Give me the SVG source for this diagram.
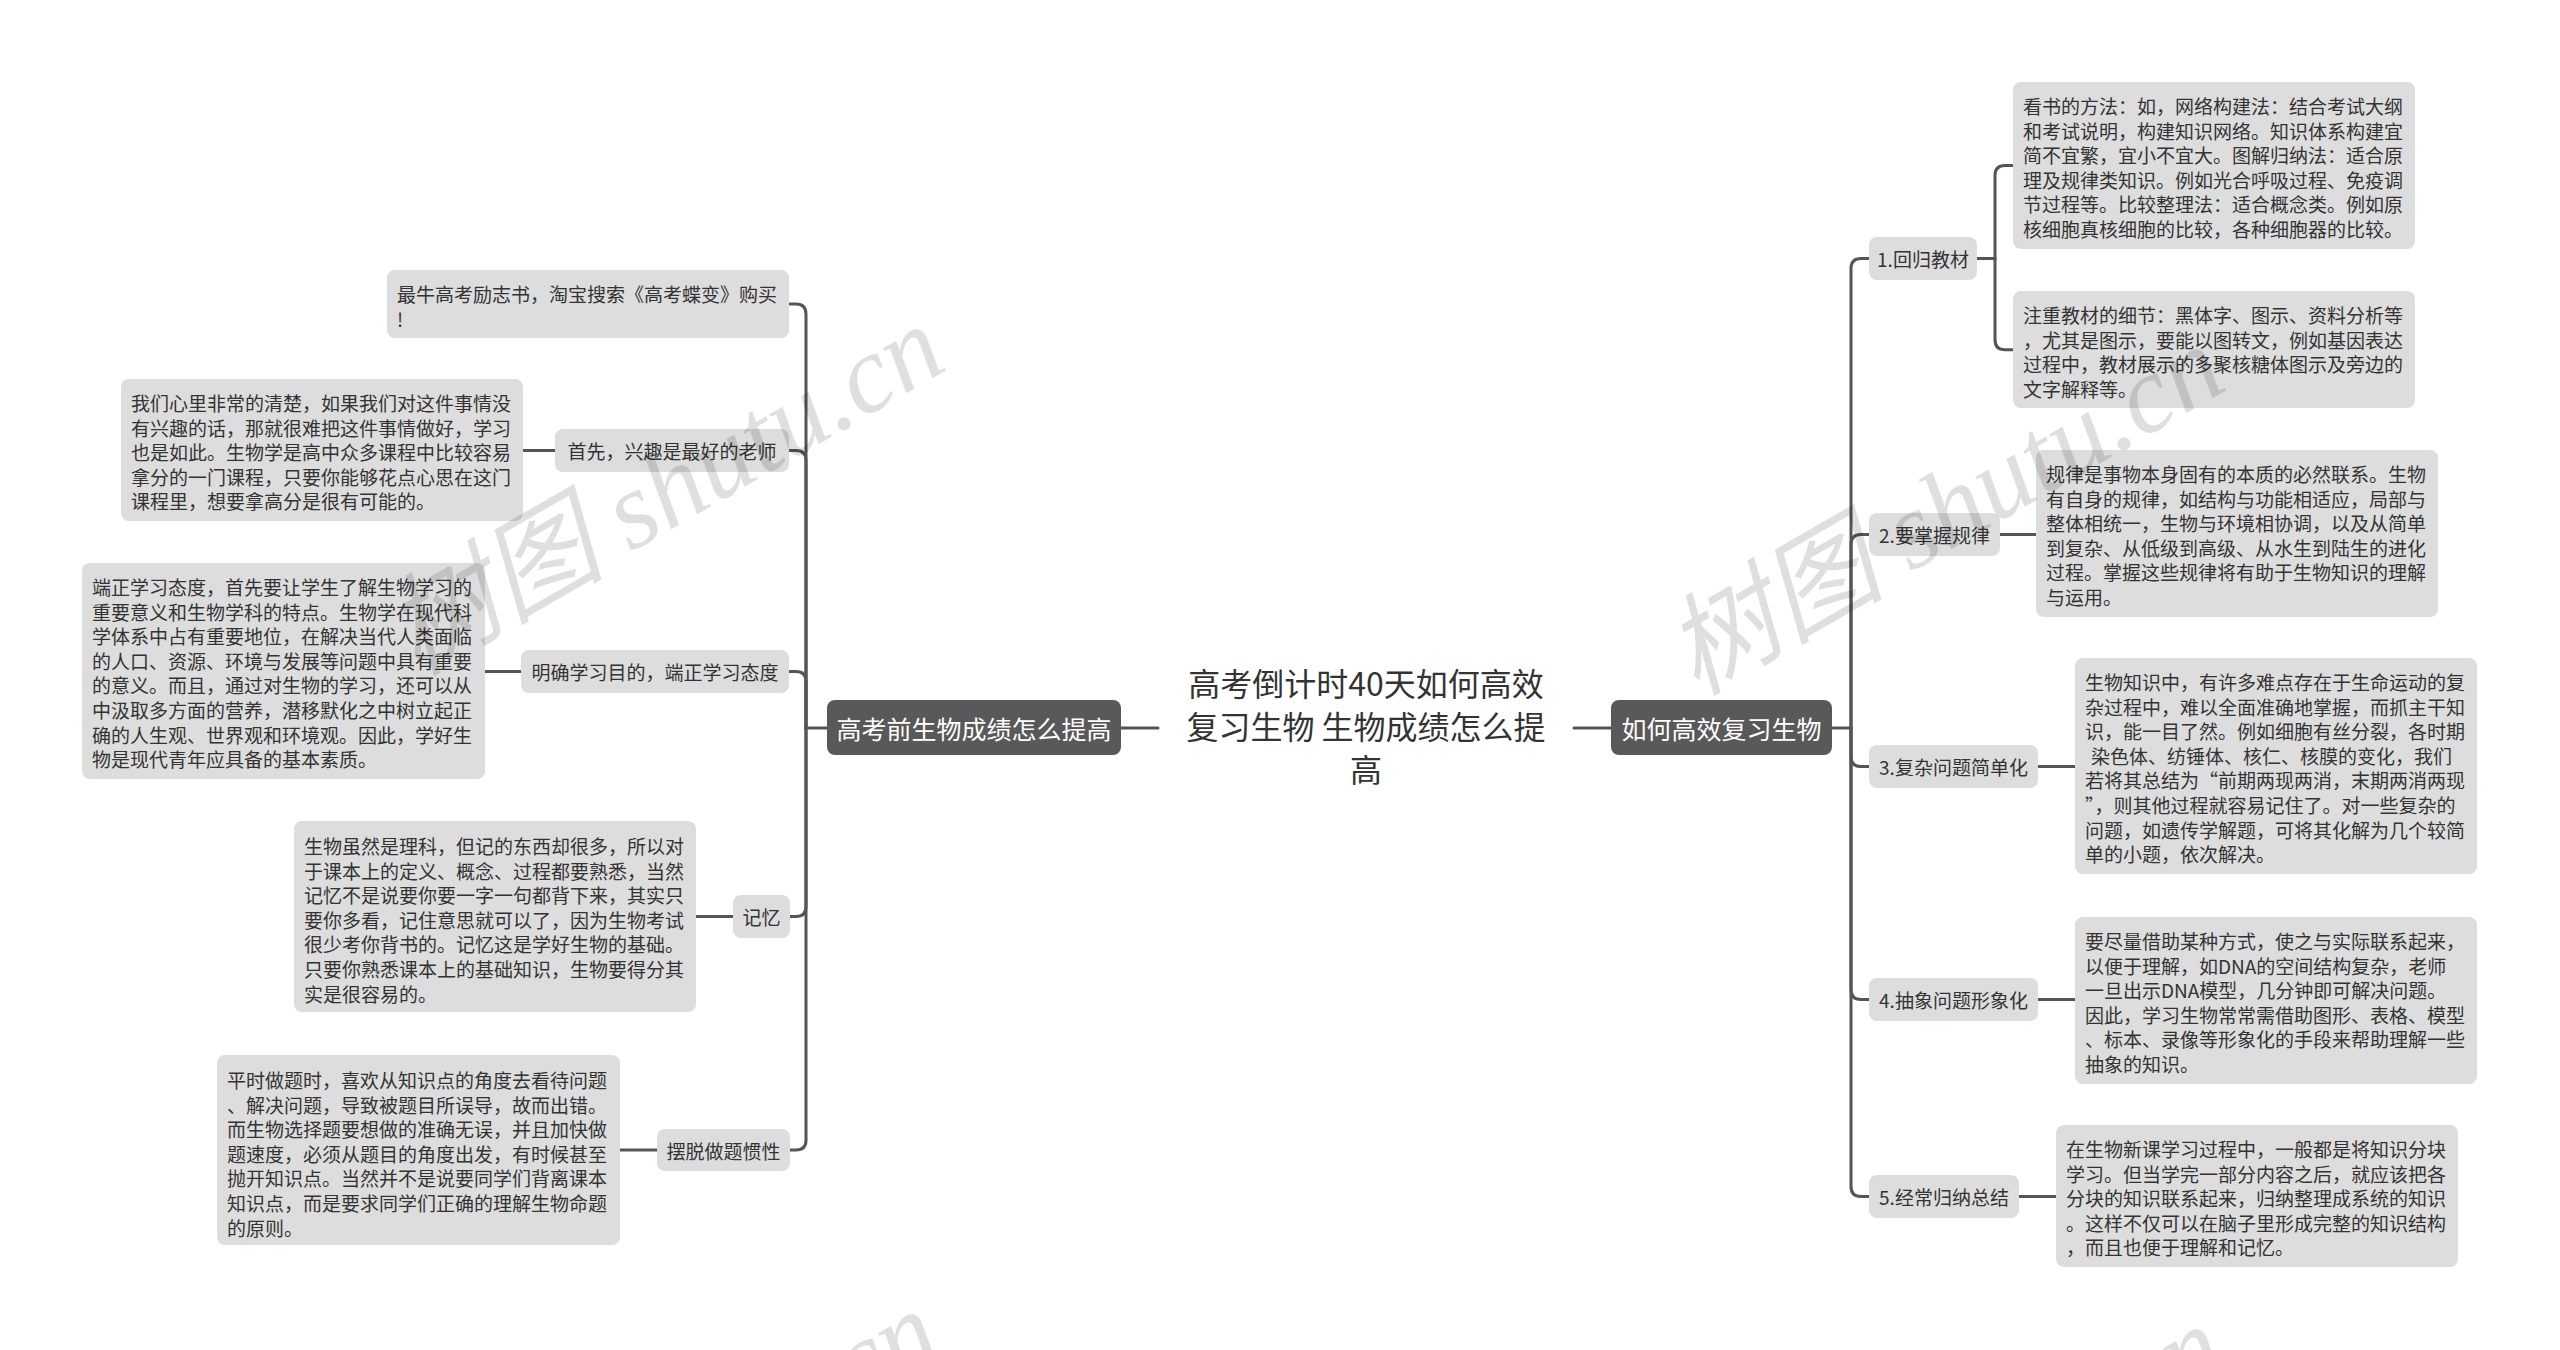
<svg xmlns="http://www.w3.org/2000/svg" width="2560" height="1350" viewBox="0 0 2560 1350">
<style>
.bg{fill:#ffffff}
.box{fill:#dddddd}
.mainbox{fill:#595959}
.t{font-family:"Noto Sans CJK SC","Noto Sans",sans-serif;font-size:19px;fill:#333333;dominant-baseline:central}
.tc{font-family:"Noto Sans CJK SC","Noto Sans",sans-serif;font-size:19px;fill:#333333;dominant-baseline:central;text-anchor:middle}
.tm{font-family:"Noto Sans CJK SC","Noto Sans",sans-serif;font-size:25px;fill:#ffffff;dominant-baseline:central;text-anchor:middle}
.root{font-family:"Noto Sans CJK SC","Noto Sans",sans-serif;font-size:32px;fill:#333333;dominant-baseline:central;text-anchor:middle}
.conn path{fill:none;stroke:#555555;stroke-width:3;stroke-linecap:round}
.wm{font-family:"Liberation Serif","Noto Sans CJK SC",serif;font-style:italic;font-size:110px;fill:#000000;opacity:0.12;text-anchor:middle;dominant-baseline:central}
</style>
<rect class="bg" x="0" y="0" width="2560" height="1350"/>

<g id="connectors" class="conn">
  <path d="M1121 728 H1158"/>
  <path d="M1574 728 H1611"/>
  <path d="M827 728 H806"/>
  <path d="M806 728 V314 Q806 304 796 304 H789"/>
  <path d="M806 728 V460.5 Q806 450.5 796 450.5 H789"/>
  <path d="M806 728 V681.5 Q806 671.5 796 671.5 H789"/>
  <path d="M806 728 V906.5 Q806 916.5 796 916.5 H790"/>
  <path d="M806 728 V1140 Q806 1150 796 1150 H790"/>
  <path d="M555 450.5 H523"/>
  <path d="M521 671.5 H485"/>
  <path d="M733 916.5 H696"/>
  <path d="M657 1150 H620"/>
  <path d="M1832 728 H1851"/>
  <path d="M1851 728 V268.5 Q1851 258.5 1861 258.5 H1869"/>
  <path d="M1851 728 V544.5 Q1851 534.5 1861 534.5 H1869"/>
  <path d="M1851 728 V756.5 Q1851 766.5 1861 766.5 H1869"/>
  <path d="M1851 728 V989.5 Q1851 999.5 1861 999.5 H1869"/>
  <path d="M1851 728 V1186.5 Q1851 1196.5 1861 1196.5 H1869"/>
  <path d="M1977 258.5 H1995"/>
  <path d="M1995 258.5 V175.5 Q1995 165.5 2005 165.5 H2013"/>
  <path d="M1995 258.5 V339.7 Q1995 349.7 2005 349.7 H2013"/>
  <path d="M2000 534.5 H2036"/>
  <path d="M2038 766.5 H2075"/>
  <path d="M2038 999.5 H2075"/>
  <path d="M2019 1196.5 H2056"/>
</g>

<g id="root">
  <text class="root" x="1366" y="682">高考倒计时40天如何高效</text>
  <text class="root" x="1366" y="725">复习生物 生物成绩怎么提</text>
  <text class="root" x="1366" y="768">高</text>
</g>

<g id="main-left">
  <rect class="mainbox" x="827" y="700" width="294" height="55" rx="8"/>
  <text class="tm" x="974" y="728">高考前生物成绩怎么提高</text>
</g>
<g id="main-right">
  <rect class="mainbox" x="1611" y="700" width="221" height="55" rx="8"/>
  <text class="tm" x="1721.5" y="728">如何高效复习生物</text>
</g>

<g id="leaf-l1">
  <rect class="box" x="387" y="270" width="402" height="68" rx="8"/>
  <text class="t" x="397" y="293"><tspan x="397">最牛高考励志书，淘宝搜索《高考蝶变》购买</tspan><tspan x="397" dy="24.6">!</tspan></text>
</g>

<g id="mid-l2">
  <rect class="box" x="555" y="429" width="234" height="43" rx="8"/>
  <text class="tc" x="672" y="450.5">首先，兴趣是最好的老师</text>
</g>
<g id="leaf-l2">
  <rect class="box" x="121" y="379" width="402" height="142" rx="8"/>
  <text class="t" x="131" y="402"><tspan x="131">我们心里非常的清楚，如果我们对这件事情没</tspan><tspan x="131" dy="24.6">有兴趣的话，那就很难把这件事情做好，学习</tspan><tspan x="131" dy="24.6">也是如此。生物学是高中众多课程中比较容易</tspan><tspan x="131" dy="24.6">拿分的一门课程，只要你能够花点心思在这门</tspan><tspan x="131" dy="24.6">课程里，想要拿高分是很有可能的。</tspan></text>
</g>

<g id="mid-l3">
  <rect class="box" x="521" y="650" width="268" height="43" rx="8"/>
  <text class="tc" x="655" y="671.5">明确学习目的，端正学习态度</text>
</g>
<g id="leaf-l3">
  <rect class="box" x="82" y="563" width="403" height="216" rx="8"/>
  <text class="t" x="92" y="586"><tspan x="92">端正学习态度，首先要让学生了解生物学习的</tspan><tspan x="92" dy="24.6">重要意义和生物学科的特点。生物学在现代科</tspan><tspan x="92" dy="24.6">学体系中占有重要地位，在解决当代人类面临</tspan><tspan x="92" dy="24.6">的人口、资源、环境与发展等问题中具有重要</tspan><tspan x="92" dy="24.6">的意义。而且，通过对生物的学习，还可以从</tspan><tspan x="92" dy="24.6">中汲取多方面的营养，潜移默化之中树立起正</tspan><tspan x="92" dy="24.6">确的人生观、世界观和环境观。因此，学好生</tspan><tspan x="92" dy="24.6">物是现代青年应具备的基本素质。</tspan></text>
</g>

<g id="mid-l4">
  <rect class="box" x="733" y="895" width="57" height="43" rx="8"/>
  <text class="tc" x="761.5" y="916.5">记忆</text>
</g>
<g id="leaf-l4">
  <rect class="box" x="294" y="821" width="402" height="191" rx="8"/>
  <text class="t" x="304" y="845"><tspan x="304">生物虽然是理科，但记的东西却很多，所以对</tspan><tspan x="304" dy="24.6">于课本上的定义、概念、过程都要熟悉，当然</tspan><tspan x="304" dy="24.6">记忆不是说要你要一字一句都背下来，其实只</tspan><tspan x="304" dy="24.6">要你多看，记住意思就可以了，因为生物考试</tspan><tspan x="304" dy="24.6">很少考你背书的。记忆这是学好生物的基础。</tspan><tspan x="304" dy="24.6">只要你熟悉课本上的基础知识，生物要得分其</tspan><tspan x="304" dy="24.6">实是很容易的。</tspan></text>
</g>

<g id="mid-l5">
  <rect class="box" x="657" y="1129" width="133" height="42" rx="8"/>
  <text class="tc" x="723.5" y="1150">摆脱做题惯性</text>
</g>
<g id="leaf-l5">
  <rect class="box" x="217" y="1055" width="403" height="190" rx="8"/>
  <text class="t" x="227" y="1079"><tspan x="227">平时做题时，喜欢从知识点的角度去看待问题</tspan><tspan x="227" dy="24.6">、解决问题，导致被题目所误导，故而出错。</tspan><tspan x="227" dy="24.6">而生物选择题要想做的准确无误，并且加快做</tspan><tspan x="227" dy="24.6">题速度，必须从题目的角度出发，有时候甚至</tspan><tspan x="227" dy="24.6">抛开知识点。当然并不是说要同学们背离课本</tspan><tspan x="227" dy="24.6">知识点，而是要求同学们正确的理解生物命题</tspan><tspan x="227" dy="24.6">的原则。</tspan></text>
</g>

<g id="mid-r1">
  <rect class="box" x="1869" y="237" width="108" height="43" rx="8"/>
  <text class="tc" x="1923" y="258.5">1.回归教材</text>
</g>
<g id="leaf-r1a">
  <rect class="box" x="2013" y="82" width="402" height="167" rx="8"/>
  <text class="t" x="2023" y="105"><tspan x="2023">看书的方法：如，网络构建法：结合考试大纲</tspan><tspan x="2023" dy="24.6">和考试说明，构建知识网络。知识体系构建宜</tspan><tspan x="2023" dy="24.6">简不宜繁，宜小不宜大。图解归纳法：适合原</tspan><tspan x="2023" dy="24.6">理及规律类知识。例如光合呼吸过程、免疫调</tspan><tspan x="2023" dy="24.6">节过程等。比较整理法：适合概念类。例如原</tspan><tspan x="2023" dy="24.6">核细胞真核细胞的比较，各种细胞器的比较。</tspan></text>
</g>
<g id="leaf-r1b">
  <rect class="box" x="2013" y="291" width="402" height="117" rx="8"/>
  <text class="t" x="2023" y="314"><tspan x="2023">注重教材的细节：黑体字、图示、资料分析等</tspan><tspan x="2023" dy="24.6">，尤其是图示，要能以图转文，例如基因表达</tspan><tspan x="2023" dy="24.6">过程中，教材展示的多聚核糖体图示及旁边的</tspan><tspan x="2023" dy="24.6">文字解释等。</tspan></text>
</g>

<g id="mid-r2">
  <rect class="box" x="1869" y="513" width="131" height="43" rx="8"/>
  <text class="tc" x="1934.5" y="534.5">2.要掌握规律</text>
</g>
<g id="leaf-r2">
  <rect class="box" x="2036" y="450" width="402" height="167" rx="8"/>
  <text class="t" x="2046" y="473"><tspan x="2046">规律是事物本身固有的本质的必然联系。生物</tspan><tspan x="2046" dy="24.6">有自身的规律，如结构与功能相适应，局部与</tspan><tspan x="2046" dy="24.6">整体相统一，生物与环境相协调，以及从简单</tspan><tspan x="2046" dy="24.6">到复杂、从低级到高级、从水生到陆生的进化</tspan><tspan x="2046" dy="24.6">过程。掌握这些规律将有助于生物知识的理解</tspan><tspan x="2046" dy="24.6">与运用。</tspan></text>
</g>

<g id="mid-r3">
  <rect class="box" x="1869" y="745" width="169" height="43" rx="8"/>
  <text class="tc" x="1953.5" y="766.5">3.复杂问题简单化</text>
</g>
<g id="leaf-r3">
  <rect class="box" x="2075" y="658" width="402" height="216" rx="8"/>
  <text class="t" x="2085" y="681"><tspan x="2085">生物知识中，有许多难点存在于生命运动的复</tspan><tspan x="2085" dy="24.6">杂过程中，难以全面准确地掌握，而抓主干知</tspan><tspan x="2085" dy="24.6">识，能一目了然。例如细胞有丝分裂，各时期</tspan><tspan x="2091" dy="24.6">染色体、纺锤体、核仁、核膜的变化，我们</tspan><tspan x="2085" dy="24.6">若将其总结为“前期两现两消，末期两消两现</tspan><tspan x="2085" dy="24.6">”，则其他过程就容易记住了。对一些复杂的</tspan><tspan x="2085" dy="24.6">问题，如遗传学解题，可将其化解为几个较简</tspan><tspan x="2085" dy="24.6">单的小题，依次解决。</tspan></text>
</g>

<g id="mid-r4">
  <rect class="box" x="1869" y="978" width="169" height="43" rx="8"/>
  <text class="tc" x="1953.5" y="999.5">4.抽象问题形象化</text>
</g>
<g id="leaf-r4">
  <rect class="box" x="2075" y="917" width="402" height="167" rx="8"/>
  <text class="t" x="2085" y="940"><tspan x="2085">要尽量借助某种方式，使之与实际联系起来，</tspan><tspan x="2085" dy="24.6">以便于理解，如DNA的空间结构复杂，老师</tspan><tspan x="2085" dy="24.6">一旦出示DNA模型，几分钟即可解决问题。</tspan><tspan x="2085" dy="24.6">因此，学习生物常常需借助图形、表格、模型</tspan><tspan x="2085" dy="24.6">、标本、录像等形象化的手段来帮助理解一些</tspan><tspan x="2085" dy="24.6">抽象的知识。</tspan></text>
</g>

<g id="mid-r5">
  <rect class="box" x="1869" y="1175" width="150" height="43" rx="8"/>
  <text class="tc" x="1944" y="1196.5">5.经常归纳总结</text>
</g>
<g id="leaf-r5">
  <rect class="box" x="2056" y="1125" width="402" height="142" rx="8"/>
  <text class="t" x="2066" y="1148"><tspan x="2066">在生物新课学习过程中，一般都是将知识分块</tspan><tspan x="2066" dy="24.6">学习。但当学完一部分内容之后，就应该把各</tspan><tspan x="2066" dy="24.6">分块的知识联系起来，归纳整理成系统的知识</tspan><tspan x="2066" dy="24.6">。这样不仅可以在脑子里形成完整的知识结构</tspan><tspan x="2066" dy="24.6">，而且也便于理解和记忆。</tspan></text>
</g>

<g id="watermarks">
  <text class="wm" x="665" y="490" transform="rotate(-30 665 490)">树图 shutu.cn</text>
  <text class="wm" x="1945" y="510" transform="rotate(-30 1945 510)">树图 shutu.cn</text>
  <text class="wm" x="660" y="1475" transform="rotate(-30 660 1475)">树图 shutu.cn</text>
  <text class="wm" x="1945" y="1490" transform="rotate(-30 1945 1490)">树图 shutu.cn</text>
</g>
</svg>
